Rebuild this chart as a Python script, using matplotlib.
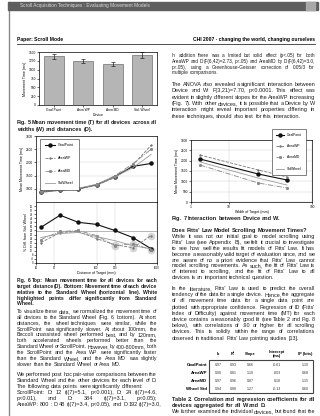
import matplotlib
matplotlib.use("Agg")
import matplotlib.pyplot as plt
from matplotlib.patches import Rectangle

plt.rcParams["font.family"] = ["Liberation Sans", "DejaVu Sans"]
plt.rcParams["axes.linewidth"] = 0.5
plt.rcParams["xtick.major.width"] = 0.4
plt.rcParams["ytick.major.width"] = 0.4
plt.rcParams["xtick.major.size"] = 1.2
plt.rcParams["ytick.major.size"] = 1.2
plt.rcParams["xtick.minor.size"] = 0
plt.rcParams["xtick.major.pad"] = 1
plt.rcParams["ytick.major.pad"] = 1

W, H = 320, 416

# ---- data ----
devices = ["Goal Point", "Area WP", "Area MD", "Std. Wheel"]
mean_time = [1385, 1245, 1155, 1410]
mean_err = [70, 50, 55, 80]

series_names = ["GoalPoint", "AreaWP", "AreaMD", "StdWheel"]
distances = [12, 25, 50, 100, 200, 400, 800]
time_goal = [880, 960, 1000, 1150, 1460, 1850, 1960]
time_areawp = [860, 940, 990, 1130, 1420, 1900, 2650]
time_areamd = [870, 950, 1000, 1160, 1490, 1950, 2500]
time_wheel = [900, 980, 1020, 1170, 1450, 1800, 2300]

rel_goal = [35, 47, 40, 38, 32, 25, 14]
rel_areawp = [20, 30, 31, 24, 18, 15, 27]
rel_areamd = [23, 31, 32, 27, 17, 19, 13]
rel_wheel = [25, 29, 30, 26, 22, 17, 14]
sig_points = [4, 5, 6]

widths = [4.5, 22.5, 50]
w_goal = [2080, 1355, 1065]
w_areawp = [2270, 1550, 1210]
w_areamd = [1790, 920, 680]
w_wheel = [1935, 1160, 820]

table_cols = ["b", "R\u00b2", "Slope", "Intercept\n(ms)", "IP (bits)"]
table_rows = ["GoalPoint", "AreaWP", "AreaMD", "Wheel Std"]
table_vals = [["0.97", "0.93", "0.66", "-0.61", "1.10"],
              ["0.90", "0.81", "1.10", "-603", "0.68"],
              ["0.97", "0.96", "0.87", "0.18", "1.15"],
              ["0.94", "0.88", "1.27", "-0.13", "0.60"]]

fig = plt.figure(figsize=(3.2, 4.16), dpi=100, facecolor="white")
renderer = fig.canvas.get_renderer()

BODY = 4.1


def fx(x):
    return x / W


def fy(y):
    return 1 - y / H


def add_ax(l, t, r, b):
    return fig.add_axes([l / W, 1 - b / H, (r - l) / W, (b - t) / H])


def word_widths(words, size, weight):
    out = []
    for w in words:
        t = fig.text(0, 0, w, fontsize=size, weight=weight)
        out.append(t.get_window_extent(renderer).width)
        t.remove()
    return out


def text_block(lines, x0, y0, width, step=5.9, size=BODY, weight="normal", last_full=False):
    # one font size per block, lines justified by spreading the words
    scale = 1.0
    for line in lines:
        words = line.split()
        ws = word_widths(words, size, weight)
        need = sum(ws) + (len(words) - 1) * 1.1
        if need > width:
            scale = min(scale, (width - (len(words) - 1) * 1.1) / sum(ws))
    size = size * scale
    drop = size * 100 / 72 * 0.36  # centre of x-height to baseline, px
    for i, line in enumerate(lines):
        y = y0 + i * step + drop
        words = line.split()
        ws = word_widths(words, size, weight)
        justify = (i < len(lines) - 1) or last_full
        if justify and len(words) > 1:
            gap = (width - sum(ws)) / (len(words) - 1)
        else:
            gap = 1.3
        x = x0
        for w, wd in zip(words, ws):
            fig.text(fx(x), fy(y), w, fontsize=size, weight=weight,
                     va="baseline", color="#1e1e1e")
            x += wd + gap


# ---- window frame ----
fig.patches.append(Rectangle((fx(8), fy(10)), fx(310), 8 / H, transform=fig.transFigure,
                             color="#5e5e5e", zorder=5))
fig.patches.append(Rectangle((fx(306), fy(9.5)), fx(9), 7 / H, transform=fig.transFigure,
                             color="#a8a8a8", zorder=6))
fig.text(fx(20), fy(6), "Scroll Acquisition Techniques : Evaluating Movement Models",
         fontsize=3.4, color="#dddddd", va="center", zorder=7)
fig.lines.append(plt.Line2D([fx(8.5), fx(8.5)], [fy(2), fy(416)], transform=fig.transFigure,
                            color="#8a8a8a", lw=1.0))

# ---- running header ----
fig.text(fx(17), fy(40), "Paper: Scroll Mode", fontsize=3.6, weight="bold", va="center")
fig.text(fx(315), fy(40), "CHI 2007 \u00b7 changing the world, changing ourselves",
         fontsize=3.6, weight="bold", va="center", ha="right")
fig.lines.append(plt.Line2D([fx(17), fx(315)], [fy(43.5), fy(43.5)], transform=fig.transFigure,
                            color="#333333", lw=0.6))

tick_fs = 2.3
lab_fs = 2.6

# ---- Fig 5: bar chart ----
ax = add_ax(39, 52, 157, 105)
ax.bar(range(len(devices)), mean_time, width=0.68, color="#b5b5b5", edgecolor="#555555",
       linewidth=0.4, yerr=mean_err, error_kw=dict(ecolor="#222222", elinewidth=0.5,
                                                    capsize=1.2, capthick=0.5))
ax.set_xlim(-0.5, 3.5)
ax.set_ylim(0, 1500)
ax.set_yticks(range(0, 1501, 250))
ax.set_xticks(range(len(devices)))
ax.set_xticklabels(devices)
ax.tick_params(labelsize=tick_fs)
ax.set_xlabel("Device", fontsize=lab_fs, labelpad=1)
ax.set_ylabel("Movement Time (ms)", fontsize=lab_fs, labelpad=1)

text_block(["Fig. 5    Mean movement time (T) for all devices across all",
            "widths (W) and distances (D)."], 17, 122, 140, step=7, weight="bold")

# ---- Fig 6: movement time by distance ----
grey_styles = [dict(color="#111111", marker="o", ms=2.2, lw=0.8),
               dict(color="#777777", marker="+", ms=2.0, lw=0.6, ls="--"),
               dict(color="#888888", marker="x", ms=1.6, lw=0.6, ls="-."),
               dict(color="#999999", marker="", lw=0.6)]

ax1 = add_ax(36, 136, 157, 202)
for name, vals, st in zip(series_names, [time_goal, time_areawp, time_areamd, time_wheel],
                          grey_styles):
    ax1.plot(distances, vals, label=name, **st)
ax1.set_xscale("log")
ax1.set_xlim(10, 1000)
ax1.set_ylim(500, 3000)
ax1.set_yticks(range(1000, 3001, 500))
ax1.set_xticks([])
ax1.set_xticks([], minor=True)
ax1.grid(True, color="#cccccc", lw=0.3)
ax1.tick_params(labelsize=tick_fs)
ax1.set_ylabel("Mean Movement Time (ms)", fontsize=lab_fs, labelpad=1)
ax1.legend(loc="upper left", bbox_to_anchor=(fx(38), fy(137)), bbox_transform=fig.transFigure,
           fontsize=2.6, labelspacing=2.4, handlelength=3.0, borderpad=1.3,
           fancybox=False, edgecolor="#222222", framealpha=1).get_frame().set_linewidth(0.4)

ax2 = add_ax(36, 202, 157, 263)
ax2.axhline(31, color="#999999", lw=0.5)
for i in sig_points:
    ax2.plot(distances[i], rel_areawp[i], "o", ms=4.5, color="#d5d5d5", zorder=1)
    ax2.plot(distances[i], rel_areamd[i], "o", ms=4.5, color="#d5d5d5", zorder=1)
for name, vals, st in zip(series_names, [rel_goal, rel_areawp, rel_areamd, rel_wheel],
                          grey_styles):
    ax2.plot(distances, vals, label=name, **st)
ax2.set_xscale("log")
ax2.set_xlim(10, 1000)
ax2.set_ylim(0, 60)
ax2.set_yticks(range(0, 57, 4))
ax2.set_xticks([10, 20, 100, 200, 1000])
ax2.set_xticklabels(["10", "20", "100", "200", "1000"])
ax2.set_xticks([], minor=True)
ax2.grid(True, axis="x", color="#cccccc", lw=0.3)
ax2.tick_params(labelsize=1.9)
ax2.set_xlabel("Distance of Target (mm)", fontsize=lab_fs, labelpad=1)
ax2.set_ylabel("% Diff. from Std. Wheel", fontsize=lab_fs, labelpad=1)

text_block(["Fig. 6    Top: Mean movement time for all devices for each",
            "target distance (D). Bottom: Movement time of each device",
            "relative to the Standard Wheel (horizontal line). White",
            "highlighted points differ significantly from Standard",
            "Wheel."], 17, 280, 140, step=5.9, weight="bold")

text_block(["To visualize these data, we normalized the movement time of",
            "all devices to the Standard Wheel (Fig. 6, bottom). At short",
            "distances, the wheel techniques were similar, while the",
            "ScrollPoint was significantly slower. At about 100mm, the",
            "Beccoli unassisted wheel performed best, and by 120mm,",
            "both accelerated wheels performed better than the",
            "Standard Wheel or ScrollPoint. However, by 400-800mm, both",
            "the ScrollPoint and the Area WP were significantly faster",
            "than the Standard Wheel, and the Area MD was slightly",
            "slower than the Standard Wheel or Area MD."], 17, 311, 140)

text_block(["We performed post hoc pair-wise comparisons between the",
            "Standard Wheel and the other devices for each level of D.",
            "The following data points were significantly different:"], 17, 374, 140)

text_block(["ScrollPoint: D: 12 (t(7)=5.1, p<0.001), D: 24 (t(7)=4.6,",
            "   p<0.01), and D: 384 (t(7)=3.1, p<0.05);",
            "AreaWP: 800 : D 48 (t(7)=3.4, p<0.05), and D 192 (t(7)=3.0,"],
           17, 392, 140, last_full=False)

# ---- right column ----
text_block(["In addition there was a limited but solid effect (p<.05) for both",
            "AreaWP and D (F(6,42)=2.73, p<.05) and AreaMD by D (F(6,42)=3.0,",
            "p<.05), using a Greenhouse-Geisser correction of 0.05/3 for",
            "multiple comparisons."], 172, 55, 143)

text_block(["The ANOVA also revealed a significant interaction between",
            "Device and W: F(3,21)=7.70, p<0.0001. This effect was",
            "evident in slightly different slopes for the AreaWP increasing",
            "(Fig. 7). With other devices, it is possible that a Device by W",
            "interaction might reveal important properties differing in",
            "these techniques, should also test for this interaction."], 172, 84, 143, step=6.3)

ax3 = add_ax(191, 140, 312, 202)
for name, vals, st in zip(series_names, [w_goal, w_areawp, w_areamd, w_wheel], grey_styles):
    ax3.plot(widths, vals, label=name, **st)
ax3.set_xscale("log")
ax3.set_xlim(3.5, 100)
ax3.set_ylim(0, 3000)
ax3.set_yticks(range(0, 3001, 500))
ax3.set_xticks([3.5, 10, 100])
ax3.set_xticklabels(["1", "10", "100"])
ax3.set_xticks([], minor=True)
ax3.grid(True, color="#cccccc", lw=0.3)
ax3.tick_params(labelsize=tick_fs)
ax3.set_xlabel("Width of Target (mm)", fontsize=lab_fs, labelpad=1)
ax3.set_ylabel("Mean Movement Time (ms)", fontsize=lab_fs, labelpad=1)
ax3.legend(loc="upper left", bbox_to_anchor=(fx(270), fy(127)), bbox_transform=fig.transFigure,
           fontsize=2.4, labelspacing=2.2, handlelength=2.6, borderpad=1.2,
           fancybox=False, edgecolor="#222222", framealpha=1).get_frame().set_linewidth(0.4)

text_block(["Fig. 7    Interaction between Device and W."], 172, 218, 143, weight="bold")
text_block(["Does Fitts' Law Model Scrolling Movement Times?"], 172, 230, 143, weight="bold")

text_block(["While it was not our initial goal to model scrolling using",
            "Fitts' Law (see Appendix B), we felt it crucial to investigate",
            "to see how well the results fit models of Fitts' Law. It has",
            "become a reasonably valid target of evaluation since, and we",
            "are aware of no a priori evidence that Fitts' Law cannot",
            "model scrolling movements. As such, the fit of Fitts' Law is",
            "of interest to scrolling, and the fit of Fitts' Law to all",
            "devices is an important technical question."], 172, 236, 143)

text_block(["In the literature, Fitts' Law is used to predict the overall",
            "tendency of the data for a single device. Hence, the aggregate",
            "of all movement time data for a single data point are",
            "plotted with appropriate confidence. Regression of ID (Fitts'",
            "Index of Difficulty) against movement time (MT) for each",
            "device contains a reasonably good fit (see Table 2 and Fig. 8",
            "below), with correlations of .90 or higher for all scrolling",
            "devices. This is solidly within the range of correlations",
            "observed in traditional Fitts' Law pointing studies [13]."], 172, 288, 143, step=6.2)

# ---- Table 2 ----
col_x = [218, 233, 250, 277, 305]
for cx, c in zip(col_x, table_cols):
    fig.text(fx(cx), fy(354), c, fontsize=2.8, weight="bold", ha="center", va="center",
             linespacing=1.0)
row_y = [365, 373, 381, 389]
for ry, rname, vals in zip(row_y, table_rows, table_vals):
    fig.text(fx(207), fy(ry), rname, fontsize=3.2, weight="bold", ha="right", va="center")
    for cx, v in zip(col_x, vals):
        fig.text(fx(cx), fy(ry), v, fontsize=2.6, ha="center", va="center", color="#333333")
fig.patches.append(Rectangle((fx(209), fy(393)), fx(104), 33 / H, transform=fig.transFigure,
                             fill=False, edgecolor="#444444", lw=0.8))

text_block(["Table 2. Correlation and regression coefficients for all",
            "devices aggregated for all W and D."], 172, 399, 143, weight="bold")
text_block(["We further examined the individual devices, but found that the"], 172, 411, 143,
           last_full=True)

fig.savefig("out.png", dpi=100, facecolor="white")
